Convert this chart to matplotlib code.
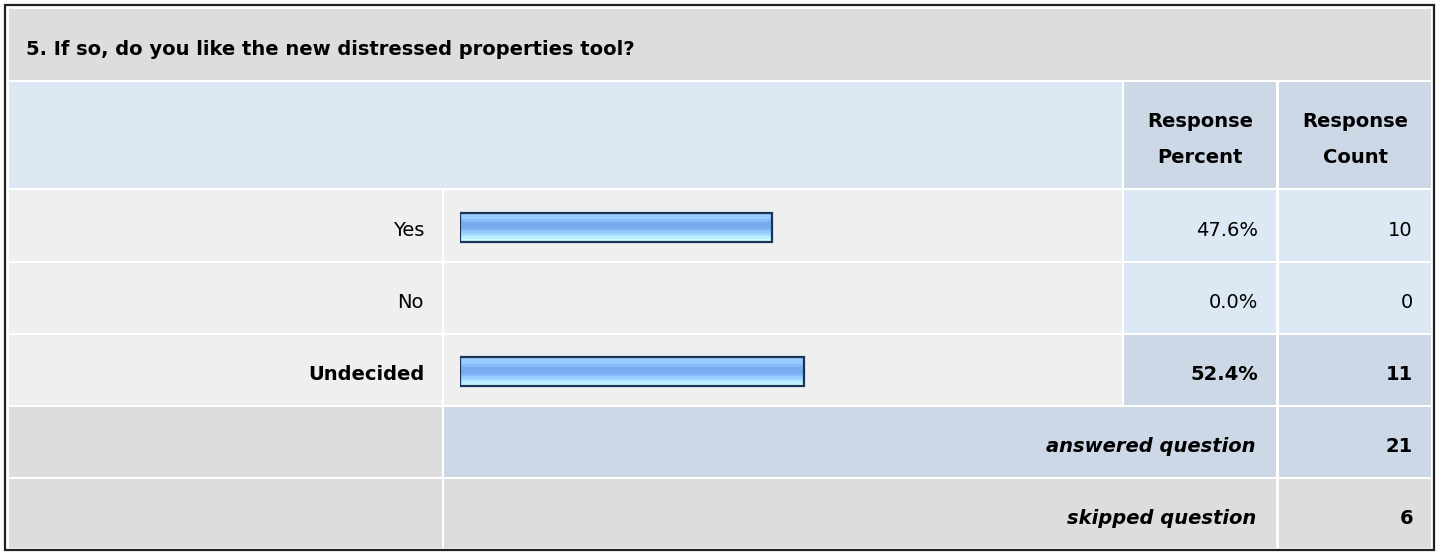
import numpy as np
import matplotlib.pyplot as plt
from matplotlib.patches import Rectangle
from matplotlib.colors import to_rgb

plt.rcParams['font.family'] = ['DejaVu Sans']

title = "5. If so, do you like the new distressed properties tool?"
answers = ["Yes", "No", "Undecided"]
percents = [47.6, 0.0, 52.4]
counts = [10, 0, 11]
answered = 21
skipped = 6

W, H = 1440, 552
fig = plt.figure(figsize=(W / 100, H / 100), dpi=100)
ax = fig.add_axes([0, 0, 1, 1])
ax.set_xlim(0, W)
ax.set_ylim(H, 0)
ax.axis('off')

# table grid in pixels
cols = [(9, 442), (444, 1122), (1124, 1276), (1279, 1431)]
rows = [(9, 80), (82, 188), (190, 261), (263, 333), (335, 405), (407, 477), (479, 548)]

GRAY = '#dddddd'
LIGHT = '#efefef'
BLUE = '#dde8f5'
BLUE2 = '#ccd8e6'
FS = 14


def cell(c0, c1, r, color):
    x0 = cols[c0][0]
    x1 = cols[c1][1]
    y0, y1 = rows[r]
    ax.add_patch(Rectangle((x0, y0), x1 - x0, y1 - y0, facecolor=color, edgecolor='none'))


def mid(r):
    return (rows[r][0] + rows[r][1]) / 2


# frame
ax.add_patch(Rectangle((5, 5), 1429, 545, facecolor='none', edgecolor='#222222', lw=1.6))

# title
cell(0, 3, 0, GRAY)
ax.text(26, mid(0) + 10.5, title, fontsize=FS, fontweight='bold', ha='left', va='baseline')

# header
cell(0, 1, 1, BLUE)
cell(2, 2, 1, BLUE2)
cell(3, 3, 1, BLUE2)
for c, lab in [(2, "Response\nPercent"), (3, "Response\nCount")]:
    cx = (cols[c][0] + cols[c][1]) / 2
    l1, l2 = lab.split("\n")
    ax.text(cx, 127, l1, fontsize=FS, fontweight='bold', ha='center', va='baseline')
    ax.text(cx, 163, l2, fontsize=FS, fontweight='bold', ha='center', va='baseline')

best = int(np.argmax(percents))
for i, (a, p, n) in enumerate(zip(answers, percents, counts)):
    r = 2 + i
    wt = 'bold' if i == best else 'normal'
    pc = BLUE2 if i == best else BLUE
    cell(0, 0, r, LIGHT)
    cell(1, 1, r, LIGHT)
    cell(2, 2, r, pc)
    cell(3, 3, r, pc)
    y = mid(r) + 10
    ax.text(424, y, a, fontsize=FS, fontweight=wt, ha='right', va='baseline')
    ax.text(1258, y, f"{p:.1f}%", fontsize=FS, fontweight=wt, ha='right', va='baseline')
    ax.text(1413, y, str(n), fontsize=FS, fontweight=wt, ha='right', va='baseline')

# totals
cell(0, 0, 5, GRAY)
cell(1, 2, 5, BLUE2)
cell(3, 3, 5, BLUE2)
cell(0, 0, 6, GRAY)
cell(1, 2, 6, GRAY)
cell(3, 3, 6, GRAY)
for r, lab, v in [(5, "answered question", answered), (6, "skipped question", skipped)]:
    y = mid(r) + 10
    ax.text(1256, y, lab, fontsize=FS, fontweight='bold', style='italic', ha='right', va='baseline')
    ax.text(1413, y, str(v), fontsize=FS, fontweight='bold', ha='right', va='baseline')

# bars on their own 0-100 scale
bx0, bw = 460, 656
bax = fig.add_axes([bx0 / W, 0, bw / W, 1])
bax.set_xlim(0, 100)
bax.set_ylim(H, 0)
bax.axis('off')
bax.patch.set_alpha(0)

stripes = ['#99ccff', '#99ccff', '#99ccff', '#88bbf8', '#77aaee', '#77aaee',
           '#77aeee', '#88bbfa', '#99ccff', '#aaddff', '#bbeeff', '#ccffff']
grad = np.array([to_rgb(c) for c in stripes])[:, None, :]

bh = 29
for i, p in enumerate(percents):
    if p <= 0:
        continue
    yc = mid(2 + i) + 1.5
    bax.imshow(grad, extent=(0, p, yc + bh / 2, yc - bh / 2), aspect='auto',
               interpolation='nearest', zorder=2)
    bax.barh(yc, p, height=bh, left=0, facecolor='none', edgecolor='#1c3358',
             linewidth=1.6, zorder=3)
bax.set_xlim(0, 100)
bax.set_ylim(H, 0)

fig.savefig("out.png", dpi=100)
